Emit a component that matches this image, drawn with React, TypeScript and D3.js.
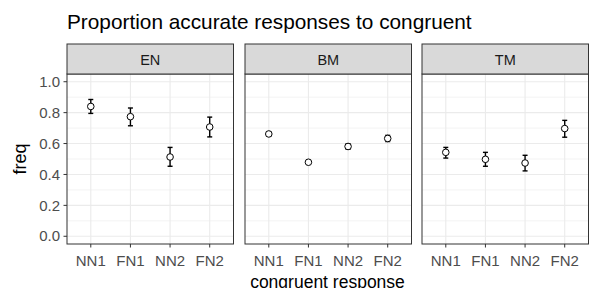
import React from "react";
import * as d3 from "d3";

const panels = ["EN", "BM", "TM"];
const categories = ["NN1", "FN1", "NN2", "FN2"];
const meanEN = [0.84, 0.774, 0.513, 0.707];
const lowEN = [0.795, 0.715, 0.453, 0.643];
const highEN = [0.885, 0.83, 0.575, 0.771];
const meanBM = [0.662, 0.479, 0.581, 0.633];
const lowBM = [0.648, 0.472, 0.563, 0.613];
const highBM = [0.676, 0.486, 0.599, 0.653];
const meanTM = [0.543, 0.498, 0.474, 0.697];
const lowTM = [0.506, 0.453, 0.423, 0.641];
const highTM = [0.575, 0.543, 0.524, 0.75];
const yTicks = [0, 0.2, 0.4, 0.6, 0.8, 1.0];
const yMinor = [0.1, 0.3, 0.5, 0.7, 0.9];

const series = [
  { mean: meanEN, low: lowEN, high: highEN },
  { mean: meanBM, low: lowBM, high: highBM },
  { mean: meanTM, low: lowTM, high: highTM },
];

const W = 589;
const H = 288;
const panelLeft = [67, 245, 422];
const panelW = 166.5;
const stripTop = 44;
const panelTop = 74;
const panelBottom = 244;
const font = "'Liberation Sans', Arial, sans-serif";

export default function App() {
  const y = d3.scaleLinear().domain([-0.05, 1.05]).range([panelBottom, panelTop]);
  return (
    <svg width={W} height={H} style={{ position: "absolute", left: 0, top: 0 }} fontFamily={font}>
      <rect x={0} y={0} width={W} height={H} fill="#fff" />
      <text x={67} y={29} fontSize={20.8} fill="#000">Proportion accurate responses to congruent</text>
      {panels.map((p, pi) => {
        const x0 = panelLeft[pi];
        const x = d3.scalePoint<string>().domain(categories).range([x0, x0 + panelW]).padding(0.6);
        const s = series[pi];
        return (
          <g key={p}>
            <rect x={x0} y={panelTop} width={panelW} height={panelBottom - panelTop} fill="#fff" />
            {yMinor.map((t) => (
              <line key={"m" + t} x1={x0} x2={x0 + panelW} y1={y(t)} y2={y(t)} stroke="#EBEBEB" strokeWidth={0.6} />
            ))}
            {yTicks.map((t) => (
              <line key={"g" + t} x1={x0} x2={x0 + panelW} y1={y(t)} y2={y(t)} stroke="#EBEBEB" strokeWidth={1.1} />
            ))}
            {categories.map((c) => (
              <line key={"v" + c} x1={x(c)!} x2={x(c)!} y1={panelTop} y2={panelBottom} stroke="#EBEBEB" strokeWidth={1.1} />
            ))}
            {categories.map((c, i) => (
              <g key={"e" + c}>
                <line x1={x(c)!} x2={x(c)!} y1={y(s.low[i])} y2={y(s.high[i])} stroke="#000" strokeWidth={1.4} />
                <line x1={x(c)! - 2.5} x2={x(c)! + 2.5} y1={y(s.low[i])} y2={y(s.low[i])} stroke="#000" strokeWidth={1.4} />
                <line x1={x(c)! - 2.5} x2={x(c)! + 2.5} y1={y(s.high[i])} y2={y(s.high[i])} stroke="#000" strokeWidth={1.4} />
                <circle cx={x(c)!} cy={y(s.mean[i])} r={3.3} fill="#fff" stroke="#000" strokeWidth={1} />
              </g>
            ))}
            <rect x={x0} y={panelTop} width={panelW} height={panelBottom - panelTop} fill="none" stroke="#333" strokeWidth={1} />
            <rect x={x0} y={stripTop} width={panelW} height={panelTop - stripTop} fill="#D9D9D9" stroke="#333" strokeWidth={1} />
            <text x={x0 + panelW / 2} y={64.5} fontSize={14.5} fill="#1A1A1A" textAnchor="middle">{p}</text>
            {categories.map((c) => (
              <g key={"t" + c}>
                <line x1={x(c)!} x2={x(c)!} y1={panelBottom} y2={panelBottom + 3.5} stroke="#333" strokeWidth={1} />
                <text x={x(c)!} y={266} fontSize={15} fill="#4D4D4D" textAnchor="middle">{c}</text>
              </g>
            ))}
          </g>
        );
      })}
      {yTicks.map((t) => (
        <g key={"yt" + t}>
          <line x1={63.5} x2={67} y1={y(t)} y2={y(t)} stroke="#333" strokeWidth={1} />
          <text x={60} y={y(t) + 5.2} fontSize={15} fill="#4D4D4D" textAnchor="end">{t.toFixed(1)}</text>
        </g>
      ))}
      <text transform={`translate(26,${(panelTop + panelBottom) / 2}) rotate(-90)`} fontSize={18} fill="#000" textAnchor="middle">freq</text>
      <text x={(67 + 588) / 2} y={288} fontSize={17.5} fill="#000" textAnchor="middle">congruent response</text>
    </svg>
  );
}
